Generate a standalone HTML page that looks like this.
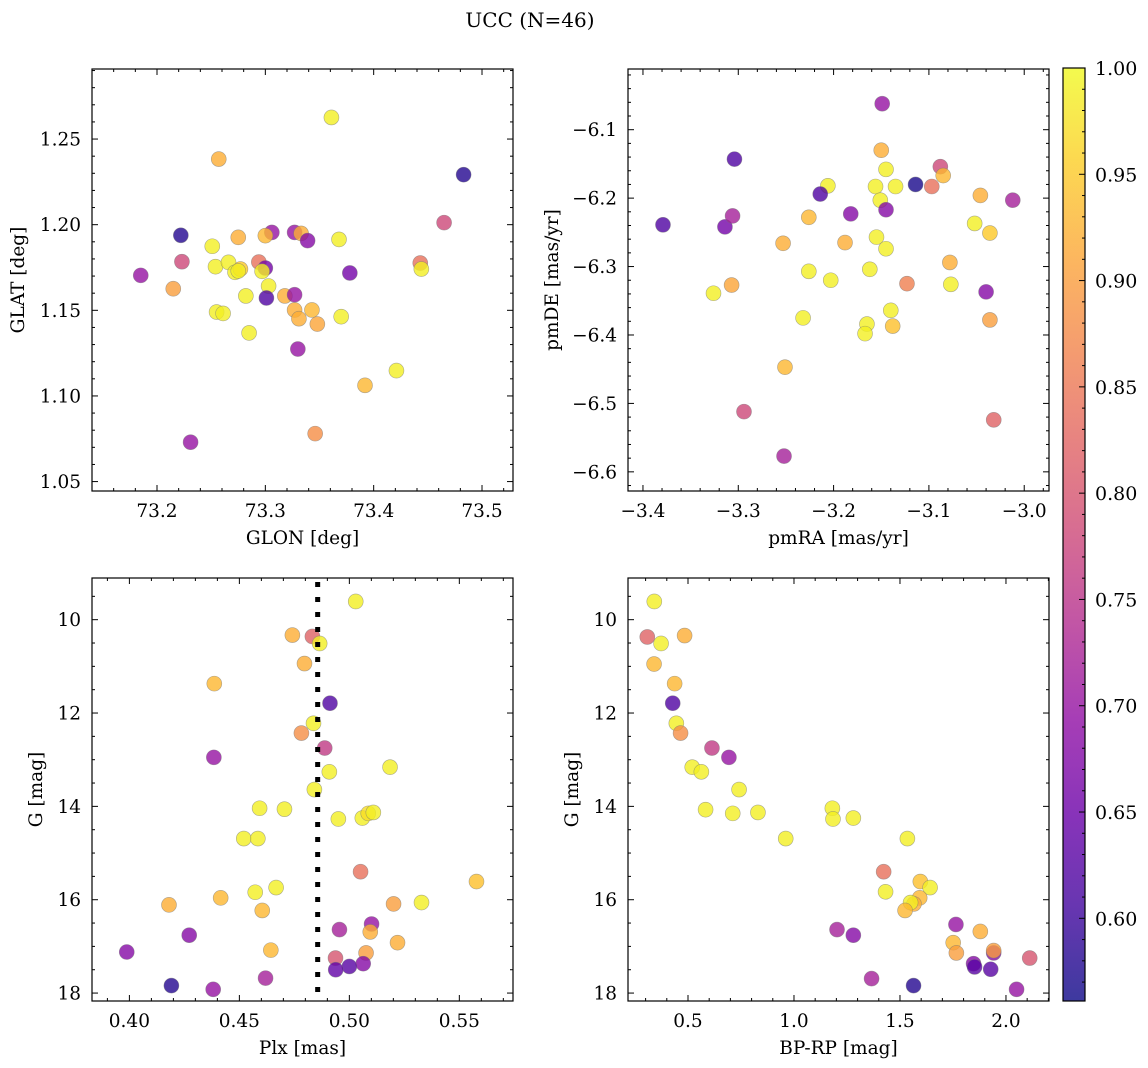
<!DOCTYPE html>
<html><head><meta charset="utf-8">
<style>
html,body{margin:0;padding:0;background:#fff;}
svg{display:block;font-family:"DejaVu Serif","Liberation Serif",serif;}
</style></head>
<body>
<svg id="fig" width="1148" height="1068" viewBox="0 0 1148 1068" xmlns="http://www.w3.org/2000/svg">
<text x="530" y="27" font-size="20" text-anchor="middle">UCC (N=46)</text>
</svg>
<script>
// Panel 1: GLON / GLAT
const glon = [73.361,73.257,73.483,73.465,73.222,73.251,73.275,73.306,73.300,73.327,73.333,73.339,73.368,73.223,73.185,73.254,73.266,73.272,73.277,73.275,73.294,73.300,73.297,73.303,73.301,73.282,73.318,73.327,73.378,73.443,73.444,73.215,73.255,73.261,73.327,73.343,73.331,73.348,73.370,73.285,73.330,73.421,73.392,73.346,73.231];
const glat = [1.2626,1.2383,1.2292,1.2012,1.1938,1.1874,1.1926,1.1955,1.1936,1.1955,1.1949,1.1907,1.1914,1.1784,1.1704,1.1755,1.1780,1.1722,1.1741,1.1730,1.1782,1.1747,1.1728,1.1642,1.1572,1.1584,1.1584,1.1591,1.1718,1.1776,1.1741,1.1626,1.1490,1.1482,1.1502,1.1502,1.1451,1.1420,1.1463,1.1368,1.1274,1.1148,1.1062,1.0780,1.0730];
const prob1 = [0.99,0.92,0.58,0.78,0.58,0.99,0.92,0.70,0.93,0.70,0.92,0.68,0.99,0.78,0.70,0.99,0.99,0.99,0.95,0.99,0.84,0.66,0.99,0.99,0.62,0.99,0.92,0.70,0.66,0.84,0.99,0.90,0.99,0.99,0.92,0.93,0.92,0.91,0.99,0.99,0.70,0.99,0.93,0.88,0.70];
// Panel 2: pmRA / pmDE
const pmra = [-3.149,-3.304,-3.150,-3.145,-3.088,-3.085,-3.114,-3.097,-3.156,-3.135,-3.206,-3.214,-3.151,-3.145,-3.182,-3.046,-3.012,-3.379,-3.314,-3.306,-3.226,-3.253,-3.188,-3.155,-3.145,-3.052,-3.036,-3.078,-3.226,-3.203,-3.162,-3.123,-3.077,-3.040,-3.326,-3.307,-3.232,-3.165,-3.167,-3.140,-3.138,-3.036,-3.251,-3.294,-3.032,-3.252];
const pmde = [-6.062,-6.143,-6.130,-6.158,-6.154,-6.167,-6.180,-6.183,-6.183,-6.183,-6.182,-6.194,-6.203,-6.217,-6.223,-6.196,-6.203,-6.239,-6.242,-6.226,-6.228,-6.266,-6.265,-6.257,-6.274,-6.237,-6.251,-6.294,-6.307,-6.320,-6.304,-6.325,-6.326,-6.337,-6.339,-6.327,-6.375,-6.384,-6.398,-6.364,-6.387,-6.378,-6.447,-6.512,-6.524,-6.577];
const prob2 = [0.70,0.62,0.92,0.99,0.78,0.93,0.57,0.84,0.99,0.99,0.99,0.62,0.99,0.68,0.68,0.92,0.72,0.62,0.66,0.72,0.93,0.92,0.92,0.99,0.99,0.99,0.95,0.92,0.99,0.99,0.99,0.86,0.99,0.68,0.99,0.91,0.99,0.99,0.99,0.99,0.94,0.90,0.93,0.78,0.82,0.72];
// Panel 3: Plx / G
const plx = [0.5029,0.4741,0.4832,0.4865,0.4796,0.4386,0.4912,0.4837,0.4782,0.4888,0.4384,0.5185,0.4909,0.4841,0.4592,0.4705,0.4950,0.5059,0.5086,0.5109,0.4520,0.4584,0.5051,0.5578,0.4572,0.4667,0.4415,0.4180,0.5201,0.5328,0.4604,0.5101,0.4955,0.5095,0.4272,0.3988,0.4643,0.5219,0.5076,0.4937,0.5063,0.5000,0.4938,0.4619,0.4191,0.4381];
const gmag3 = [9.61,10.33,10.36,10.51,10.94,11.37,11.79,12.22,12.43,12.75,12.95,13.16,13.26,13.64,14.04,14.06,14.27,14.25,14.15,14.13,14.69,14.69,15.40,15.61,15.84,15.74,15.96,16.11,16.09,16.06,16.23,16.52,16.64,16.69,16.76,17.12,17.08,16.92,17.14,17.25,17.37,17.43,17.50,17.68,17.84,17.92];
const prob3 = [0.99,0.92,0.82,0.99,0.92,0.93,0.62,0.99,0.88,0.76,0.70,0.99,0.99,0.99,0.99,0.99,0.99,0.99,0.97,0.99,0.99,0.99,0.84,0.94,0.99,0.99,0.93,0.92,0.90,0.99,0.93,0.70,0.72,0.92,0.68,0.68,0.93,0.92,0.90,0.80,0.68,0.63,0.64,0.72,0.58,0.70];
const plxRef = 0.4856;
// Panel 4: BP-RP / G
const bprp = [0.341,0.308,0.373,0.484,0.340,0.437,0.428,0.445,0.465,0.613,0.693,0.520,0.563,0.741,0.583,0.711,0.830,1.181,1.184,1.280,0.961,1.535,1.423,1.596,1.642,1.432,1.593,1.566,1.550,1.524,1.203,1.280,1.764,1.879,1.751,1.766,1.942,1.942,2.112,1.847,1.852,1.928,1.366,1.564,2.050];
const gmag4 = [9.61,10.37,10.51,10.34,10.95,11.37,11.79,12.22,12.43,12.75,12.95,13.16,13.26,13.64,14.07,14.15,14.13,14.04,14.27,14.25,14.69,14.69,15.40,15.61,15.74,15.83,15.96,16.09,16.06,16.23,16.64,16.76,16.53,16.68,16.92,17.14,17.14,17.09,17.25,17.37,17.44,17.49,17.69,17.84,17.92];
const prob4 = [0.99,0.82,0.99,0.92,0.93,0.93,0.62,0.99,0.88,0.76,0.70,0.99,0.99,0.99,0.99,0.99,0.99,0.99,0.99,0.99,0.99,0.99,0.84,0.94,0.99,0.99,0.93,0.92,0.99,0.93,0.72,0.68,0.70,0.92,0.93,0.90,0.68,0.90,0.80,0.68,0.63,0.63,0.72,0.58,0.70];
// Colorbar ticks
const cbTicks = [0.60,0.65,0.70,0.75,0.80,0.85,0.90,0.95,1.00];
const vmin = 0.5611, vmax = 1.0;

const NS = "http://www.w3.org/2000/svg";
const svg = document.getElementById('fig');
const stops = ["#0d0887","#41049d","#6a00a8","#8f0da4","#b12a90","#cc4778","#e16462","#f2844b","#fca636","#fcce25","#f0f921"];
function hex(h){return [parseInt(h.substr(1,2),16),parseInt(h.substr(3,2),16),parseInt(h.substr(5,2),16)];}
function plasma(t){t=Math.max(0,Math.min(1,t));const f=t*10,i=Math.min(9,Math.floor(f)),u=f-i;const a=hex(stops[i]),b=hex(stops[i+1]);return 'rgb('+a.map((v,k)=>Math.round(v+(b[k]-v)*u)).join(',')+')';}
function colorOf(p){return plasma((p-vmin)/(vmax-vmin));}
function el(tag,attrs,parent){const e=document.createElementNS(NS,tag);for(const k in attrs)e.setAttribute(k,attrs[k]);(parent||svg).appendChild(e);return e;}
function fmt(v,d){return v.toFixed(d).replace('-','\u2212');}

function panel(cfg){
  const {name,x0,x1,y0,y1,xmin,xmax,ymin,ymax,invertY}=cfg;
  const sx=v=>x0+(v-xmin)/(xmax-xmin)*(x1-x0);
  const sy=invertY?(v=>y0+(v-ymin)/(ymax-ymin)*(y1-y0)):(v=>y1-(v-ymin)/(ymax-ymin)*(y1-y0));
  const g=el('g',{});
  
  
  for(let i=0;i<cfg.xs.length;i++){
    const c=el('circle',{cx:sx(cfg.xs[i]),cy:sy(cfg.ys[i]),r:7.5,fill:colorOf(cfg.ps[i]),'fill-opacity':0.8,stroke:'#777','stroke-opacity':0.6,'stroke-width':0.6},g);
    
    
  }
  if(cfg.vline!==undefined){
    const ln=el('line',{x1:sx(cfg.vline),x2:sx(cfg.vline),y1:y0+4,y2:y1,stroke:'#000','stroke-width':5,'stroke-dasharray':'5,10'},g);
    
    
  }
  el('rect',{x:x0,y:y0,width:x1-x0,height:y1-y0,fill:'none',stroke:'#000','stroke-width':1.2},g);
  const xt=g.appendChild(document.createElementNS(NS,'g'));
  
  
  const eps=1e-9;
  for(let v=Math.ceil(xmin/cfg.xminor-eps)*cfg.xminor; v<=xmax+eps; v+=cfg.xminor){
    const px=sx(v);
    const maj=Math.abs(v/cfg.xmajor-Math.round(v/cfg.xmajor))<1e-6;
    const L=maj?6:3;
    el('line',{x1:px,x2:px,y1:y1,y2:y1-L,stroke:'#000','stroke-width':1},xt);
    el('line',{x1:px,x2:px,y1:y0,y2:y0+L,stroke:'#000','stroke-width':1},xt);
    if(maj){const t=el('text',{x:px,y:y1+26,'font-size':18.5,'text-anchor':'middle'},xt);t.textContent=fmt(Math.round(v/cfg.xmajor)*cfg.xmajor,cfg.xdec);}
  }
  const yt=g.appendChild(document.createElementNS(NS,'g'));
  
  
  for(let v=Math.ceil(ymin/cfg.yminor-eps)*cfg.yminor; v<=ymax+eps; v+=cfg.yminor){
    const py=sy(v);
    const maj=Math.abs(v/cfg.ymajor-Math.round(v/cfg.ymajor))<1e-6;
    const L=maj?6:3;
    el('line',{x1:x0,x2:x0+L,y1:py,y2:py,stroke:'#000','stroke-width':1},yt);
    el('line',{x1:x1,x2:x1-L,y1:py,y2:py,stroke:'#000','stroke-width':1},yt);
    if(maj){const t=el('text',{x:x0-11,y:py+6.5,'font-size':18.5,'text-anchor':'end'},yt);t.textContent=fmt(Math.round(v/cfg.ymajor)*cfg.ymajor,cfg.ydec);}
  }
  const xl=el('text',{x:(x0+x1)/2,y:y1+53,'font-size':18.5,'text-anchor':'middle'},g);
  xl.textContent=cfg.xlabel;
  
  
  const yl=el('text',{x:0,y:0,'font-size':18.5,'text-anchor':'middle',transform:'translate('+cfg.ylx+','+((y0+y1)/2)+') rotate(-90)'},g);
  yl.textContent=cfg.ylabel;
  
  
}

panel({name:'glon-glat',x0:92,x1:513,y0:69,y1:491,xmin:73.140,xmax:73.5286,ymin:1.0445,ymax:1.2909,xs:glon,ys:glat,ps:prob1,xmajor:0.1,xminor:0.02,ymajor:0.05,yminor:0.01,xdec:1,ydec:2,xlabel:'GLON [deg]',ylabel:'GLAT [deg]',ylx:24});
panel({name:'proper-motion',x0:628,x1:1049,y0:69,y1:491,xmin:-3.4157,xmax:-2.974,ymin:-6.628,ymax:-6.0113,xs:pmra,ys:pmde,ps:prob2,xmajor:0.1,xminor:0.02,ymajor:0.1,yminor:0.02,xdec:1,ydec:1,xlabel:'pmRA [mas/yr]',ylabel:'pmDE [mas/yr]',ylx:558});
panel({name:'plx-g',x0:92,x1:513,y0:578,y1:1001,xmin:0.3830,xmax:0.5744,ymin:9.107,ymax:18.17,invertY:true,xs:plx,ys:gmag3,ps:prob3,xmajor:0.05,xminor:0.01,ymajor:2,yminor:0.5,xdec:2,ydec:0,xlabel:'Plx [mas]',ylabel:'G [mag]',ylx:42,vline:plxRef});
panel({name:'cmd',x0:628,x1:1049,y0:578,y1:1001,xmin:0.217,xmax:2.203,ymin:9.107,ymax:18.17,invertY:true,xs:bprp,ys:gmag4,ps:prob4,xmajor:0.5,xminor:0.1,ymajor:2,yminor:0.5,xdec:1,ydec:0,xlabel:'BP-RP [mag]',ylabel:'G [mag]',ylx:578});

// Colorbar
const cb=el('g',{});


const defs=el('defs',{},cb);
const lg=el('linearGradient',{id:'cbg',x1:0,y1:1,x2:0,y2:0},defs);
for(let i=0;i<=20;i++){el('stop',{offset:(i/20),'stop-color':plasma(i/20),'stop-opacity':0.8},lg);}
const cbx0=1063,cbx1=1085,cby0=68,cby1=1001;
el('rect',{x:cbx0,y:cby0,width:cbx1-cbx0,height:cby1-cby0,fill:'url(#cbg)',stroke:'#000','stroke-width':1.2},cb);
const cy=v=>cby1-(v-vmin)/(vmax-vmin)*(cby1-cby0);
for(let v=0.57;v<=1.0001;v+=0.01){
  const maj=Math.abs(v*20-Math.round(v*20))<1e-6;
  el('line',{x1:cbx1,x2:cbx1-(maj?6:3),y1:cy(v),y2:cy(v),stroke:'#000','stroke-width':1},cb);
}
for(const v of cbTicks){
  const t=el('text',{x:cbx1+10,y:cy(v)+7,'font-size':19},cb);
  t.textContent=v.toFixed(2);
  
  
}
</script>
</body></html>
